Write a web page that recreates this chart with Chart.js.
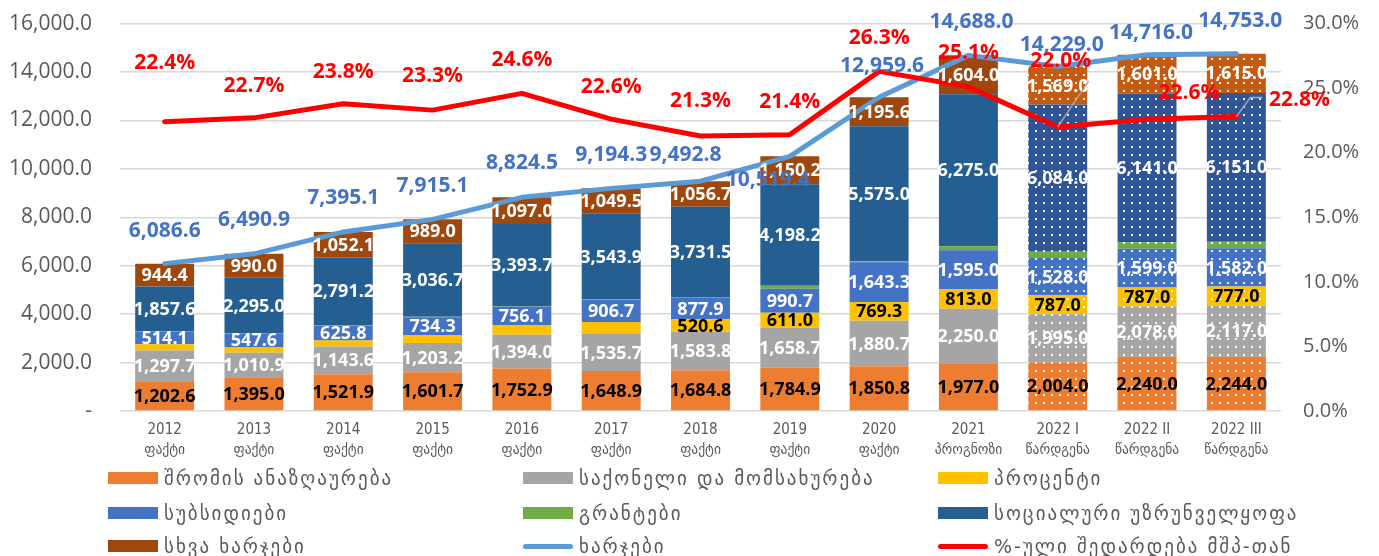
<!DOCTYPE html>
<html><head><meta charset="utf-8">
<script src="https://cdn.jsdelivr.net/npm/chart.js@4.4.1/dist/chart.umd.min.js"></script>
<style>
html,body{margin:0;padding:0;background:#fff;overflow:hidden;}
#wrap{position:relative;width:1379px;height:556px;overflow:hidden;}
#c{position:absolute;left:0;top:-17px;}
#legend{position:absolute;left:0;top:0;width:1379px;height:556px;pointer-events:none;}
.li{position:absolute;height:20px;display:flex;align-items:center;font-family:"DejaVu Sans",sans-serif;font-size:19px;letter-spacing:2px;color:#595959;white-space:nowrap;}
.sw{width:50px;height:12px;margin-right:6px;}
.ln{width:50px;height:5px;border-radius:3px;margin-right:6px;}
</style></head>
<body>
<div id="wrap"><canvas id="c" width="1379" height="573"></canvas><div id="legend"></div></div>
<script>
const years = ['2012','2013','2014','2015','2016','2017','2018','2019','2020','2021','2022 I','2022 II','2022 III'];
const kinds = ['ფაქტი','ფაქტი','ფაქტი','ფაქტი','ფაქტი','ფაქტი','ფაქტი','ფაქტი','ფაქტი','პროგნოზი','წარდგენა','წარდგენა','წარდგენა'];
const compensation = [1202.6,1395.0,1521.9,1601.7,1752.9,1648.9,1684.8,1784.9,1850.8,1977.0,2004.0,2240.0,2244.0];
const goodsServices = [1297.7,1010.9,1143.6,1203.2,1394.0,1535.7,1583.8,1658.7,1880.7,2250.0,1995.0,2078.0,2117.0];
const interest = [255,240,245,330,410,490,520.6,611.0,769.3,813.0,787.0,787.0,777.0];
const subsidies = [514.1,547.6,625.8,734.3,756.1,906.7,877.9,990.7,1643.3,1595.0,1528.0,1599.0,1582.0];
const grants = [15,12,15,20,21,20,37.5,125.7,44.9,174,262,270,267];
const social = [1857.6,2295.0,2791.2,3036.7,3393.7,3543.9,3731.5,4198.2,5575.0,6275.0,6084.0,6141.0,6151.0];
const other = [944.4,990.0,1052.1,989.0,1097.0,1049.5,1056.7,1150.2,1195.6,1604.0,1569.0,1601.0,1615.0];
const expenses = [6086.6,6490.9,7395.1,7915.1,8824.5,9194.3,9492.8,10519.4,12959.6,14688.0,14229.0,14716.0,14753.0];
const gdpShare = [22.4,22.7,23.8,23.3,24.6,22.6,21.3,21.4,26.3,25.1,22.0,22.6,22.8];
const leftTicks = [0,2000,4000,6000,8000,10000,12000,14000,16000];
const rightTicks = [0,5,10,15,20,25,30];

const seriesNames = ['შრომის ანაზღაურება','საქონელი და მომსახურება','პროცენტი','სუბსიდიები','გრანტები','სოციალური უზრუნველყოფა','სხვა ხარჯები','ხარჯები','%-ული შედარდება მშპ-თან'];

// label nudges (style only)
const blueDx = [0,0,0,0,0,0,-15,-22,3,3,4,4,4];
const blueDy = [-33,-34,-34,-33,-34,-33,-26,24,-31,-33,-21,-22,-33];
const redDx = [0,0,0,0,0,0,0,0,0,0,3,42,63];
const redDy = [-59,-32,-32,-34,-33,-32,-35,-33,-33,-34,-66,-26,-17];

const forecastFrom = 10;
function dotted(bg){
  const c=document.createElement('canvas'); c.width=8; c.height=8;
  const g=c.getContext('2d'); g.fillStyle=bg; g.fillRect(0,0,8,8);
  g.fillStyle='rgba(255,255,255,0.92)'; g.fillRect(3,3,2,2);
  return g.createPattern(c,'repeat');
}
function colors(solid, forecast){
  const p = dotted(forecast||solid);
  return years.map((_,i)=> i>=forecastFrom ? p : solid);
}
const fmt1 = v => v.toLocaleString('en-US',{minimumFractionDigits:1,maximumFractionDigits:1});

const barDefs = [
  {label:seriesNames[0], data:compensation, c:'#ED7D31', lc:'#000000'},
  {label:seriesNames[1], data:goodsServices, c:'#A5A5A5', lc:'#ffffff'},
  {label:seriesNames[2], data:interest, c:'#FFC000', lc:'#000000', labelFrom:6},
  {label:seriesNames[3], data:subsidies, c:'#4472C4', lc:'#ffffff'},
  {label:seriesNames[4], data:grants, c:'#70AD47', lc:null},
  {label:seriesNames[5], data:social, c:'#255E91', fc:'#2F5597', lc:'#ffffff'},
  {label:seriesNames[6], data:other, c:'#9E480E', fc:'#C55A11', lc:'#ffffff'},
];
const datasets = barDefs.map(d=>({
  type:'bar', label:d.label, data:d.data, backgroundColor:colors(d.c,d.fc),
  labelColor:d.lc, labelFrom:d.labelFrom||0,
  stack:'s', yAxisID:'y', order:3, barPercentage:0.66, categoryPercentage:1.0, borderWidth:0
}));
datasets.push({type:'line', label:seriesNames[7], data:expenses, yAxisID:'y', borderColor:'#5B9BD5', backgroundColor:'#5B9BD5',
  borderWidth:5, pointRadius:0, tension:0, borderJoinStyle:'round', borderCapStyle:'round', order:2,
  lineLabelColor:'#4472C4', dx:blueDx, dy:blueDy, fmt:fmt1});
datasets.push({type:'line', label:seriesNames[8], data:gdpShare, yAxisID:'y1', borderColor:'#FF0000', backgroundColor:'#FF0000',
  borderWidth:5, pointRadius:0, tension:0, borderJoinStyle:'round', borderCapStyle:'round', order:1,
  lineLabelColor:'#FF0000', dx:redDx, dy:redDy, fmt:v=>v.toFixed(1)+'%',
  leaders:{10:[[31,-46]],12:[[14,-19],[26,-19]]}});

const labelPlugin = {
  id:'labels',
  afterDatasetsDraw(chart){
    const ctx=chart.ctx;
    ctx.save();
    ctx.textAlign='center'; ctx.textBaseline='middle';
    chart.data.datasets.forEach((ds,di)=>{
      if(ds.type!=='bar' || !ds.labelColor) return;
      const meta=chart.getDatasetMeta(di);
      ctx.font='bold 18px "Open Sans"';
      ctx.fillStyle=ds.labelColor;
      meta.data.forEach((el,i)=>{
        if(i<ds.labelFrom) return;
        const p=el.getProps(['x','y','base'],true);
        ctx.fillText(fmt1(ds.data[i]), p.x, (p.y+p.base)/2+1);
      });
    });
    chart.data.datasets.forEach((ds,di)=>{
      if(ds.type!=='line') return;
      const meta=chart.getDatasetMeta(di);
      meta.data.forEach((el,i)=>{
        const x=el.x, y=el.y;
        if(ds.leaders && ds.leaders[i]){
          ctx.strokeStyle='#A6A6A6'; ctx.lineWidth=1.5;
          ctx.beginPath(); ctx.moveTo(x,y);
          ds.leaders[i].forEach(pt=> ctx.lineTo(x+pt[0], y+pt[1]));
          ctx.stroke();
        }
        ctx.font='bold 21px "Open Sans"';
        ctx.fillStyle=ds.lineLabelColor;
        ctx.fillText(ds.fmt(ds.data[i]), x+ds.dx[i], y+ds.dy[i]);
      });
    });
    ctx.restore();
  }
};

const tickColor='#595959';
new Chart(document.getElementById('c'),{
  data:{labels:years.map((y,i)=>[y,kinds[i]]), datasets},
  options:{
    responsive:false, animation:false,
    layout:{padding:{top:6,bottom:85,left:0,right:0}},
    plugins:{legend:{display:false}, tooltip:{enabled:false}},
    scales:{
      x:{stacked:true, grid:{display:false}, border:{display:false},
         ticks:{color:tickColor, padding:2, font:{family:'"DejaVu Sans Condensed","DejaVu Sans"', size:15, lineHeight:1.28}, maxRotation:0, autoSkip:false},
         afterFit(s){ s.height=60; }},
      y:{stacked:true, min:0, max:16000, position:'left',
         afterBuildTicks(s){ s.ticks=leftTicks.map(v=>({value:v})); },
         grid:{color:'#D9D9D9', lineWidth:1.5, drawTicks:false}, border:{display:false},
         ticks:{color:tickColor, padding:28, font:{family:'"Open Sans"', size:21}, callback:v=> v===0?'-':fmt1(v)},
         afterFit(s){ s.width=120; }},
      y1:{min:0, max:30, position:'right',
         afterBuildTicks(s){ s.ticks=rightTicks.map(v=>({value:v})); },
         grid:{display:false, drawTicks:false}, border:{display:false},
         ticks:{color:tickColor, padding:22, font:{family:'"Open Sans"', size:20}, callback:v=> v.toFixed(1)+'%'},
         afterFit(s){ s.width=98; }}
    }
  },
  plugins:[labelPlugin]
});

// HTML legend
const legendPos = [[108,468],[523,468],[938,468],[108,503],[523,503],[938,503],[108,536],[523,536],[938,536]];
const legendColors = ['#ED7D31','#A5A5A5','#FFC000','#4472C4','#70AD47','#255E91','#9E480E','#5B9BD5','#FF0000'];
const lg=document.getElementById('legend');
seriesNames.forEach((n,i)=>{
  const d=document.createElement('div'); d.className='li';
  d.style.left=legendPos[i][0]+'px'; d.style.top=legendPos[i][1]+'px';
  const s=document.createElement('span'); s.className= i>=7?'ln':'sw'; s.style.background=legendColors[i];
  const t=document.createElement('span'); t.textContent=n;
  d.appendChild(s); d.appendChild(t); lg.appendChild(d);
});
</script>
</body></html>
